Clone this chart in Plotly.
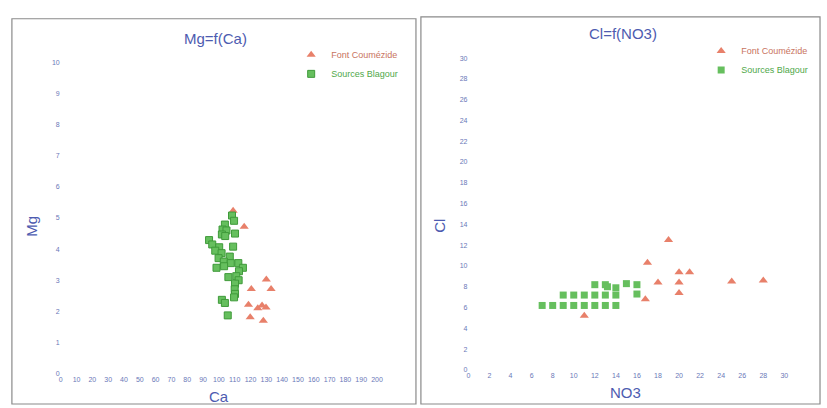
import plotly.graph_objects as go

W, H = 827, 408

# Left panel: Mg = f(Ca)
fc_ca = [109, 116, 130, 133, 120.5, 118.7, 124.6, 127.3, 129.8, 119.8, 128.1]
fc_mg = [5.23, 4.72, 3.02, 2.72, 2.72, 2.21, 2.1, 2.19, 2.12, 1.81, 1.7]
sb_ca = [108.3, 109.6, 103.8, 102.3, 104.8, 101.9, 110.2, 104.0, 93.8, 95.8, 100.2, 109.0,
         97.7, 101.7, 99.8, 106.9, 103.1, 107.5, 112.3, 98.5, 103.3, 115.2, 112.7, 106.0,
         111.0, 112.5, 110.2, 110.0, 110.2, 109.6, 101.9, 103.8, 105.6]
sb_mg = [5.08, 4.91, 4.79, 4.63, 4.60, 4.47, 4.50, 4.42, 4.29, 4.15, 4.06, 4.08,
         3.95, 3.87, 3.71, 3.76, 3.60, 3.55, 3.55, 3.40, 3.45, 3.40, 3.29, 3.10,
         3.13, 3.00, 2.89, 2.71, 2.56, 2.45, 2.37, 2.27, 1.87]

# Right panel: Cl = f(NO3)
fc_no3 = [11, 16.8, 17, 18, 19, 20, 21, 20, 20, 25, 28]
fc_cl = [5.2, 6.8, 10.3, 8.4, 12.5, 9.4, 9.4, 8.4, 7.4, 8.5, 8.6]
sb_no3 = [7, 8, 9, 10, 11, 12, 13, 14,
          9, 10, 11, 12, 13, 14, 16,
          12, 13, 13.2, 14, 15, 16]
sb_cl = [6.2, 6.2, 6.2, 6.2, 6.2, 6.2, 6.2, 6.2,
         7.2, 7.2, 7.2, 7.2, 7.2, 7.2, 7.3,
         8.2, 8.2, 8.0, 7.9, 8.3, 8.2]

names = ["Font Coumézide", "Sources Blagour"]
titles = ["Mg=f(Ca)", "Cl=f(NO3)"]

RED = "#E8806A"
GREEN = "#66BF5E"
GREEN_DARK = "#3F9A3A"
BLUE = "#4D5BB0"
TICK = "#6A78B8"
FONT = "Arial, Liberation Sans"

fig = go.Figure()

def px_x(p):
    return p / W

def px_y(p):
    return 1 - p / H

tri = dict(symbol="triangle-up", size=8, color=RED)
sq = dict(symbol="square", size=7, color=GREEN, line=dict(color=GREEN_DARK, width=1))

fig.add_trace(go.Scatter(x=fc_ca, y=fc_mg, mode="markers", marker=tri,
                         name='<span style="color:#C8735E">' + names[0] + '</span>',
                         xaxis="x", yaxis="y", legend="legend"))
fig.add_trace(go.Scatter(x=sb_ca, y=sb_mg, mode="markers", marker=sq,
                         name='<span style="color:#4FA84A">' + names[1] + '</span>',
                         xaxis="x", yaxis="y", legend="legend"))
fig.add_trace(go.Scatter(x=fc_no3, y=fc_cl, mode="markers", marker=tri,
                         name='<span style="color:#C8735E">' + names[0] + '</span>',
                         xaxis="x2", yaxis="y2", legend="legend2"))
fig.add_trace(go.Scatter(x=sb_no3, y=sb_cl, mode="markers",
                         marker=dict(symbol="square", size=7, color=GREEN),
                         name='<span style="color:#4FA84A">' + names[1] + '</span>',
                         xaxis="x2", yaxis="y2", legend="legend2"))

ax_common = dict(showgrid=False, zeroline=False, showline=False, ticks="",
                 tickfont=dict(size=7, color=TICK, family=FONT))

leg_common = dict(xanchor="left", yanchor="top", bgcolor="rgba(0,0,0,0)",
                  font=dict(size=9, family=FONT), tracegroupgap=0,
                  itemsizing="trace", itemwidth=30)

fig.update_layout(
    width=W, height=H,
    margin=dict(l=0, r=0, t=0, b=0),
    paper_bgcolor="white", plot_bgcolor="white",
    xaxis=dict(domain=[px_x(59.3), px_x(378.7)], range=[0, 200], dtick=10,
               anchor="y", **ax_common),
    yaxis=dict(domain=[px_y(376), px_y(59.5)], range=[0, 10], dtick=1,
               anchor="x", **ax_common),
    xaxis2=dict(domain=[px_x(471), px_x(790)], range=[0, 30], dtick=2,
                anchor="y2", **ax_common),
    yaxis2=dict(domain=[px_y(372.3), px_y(55)], range=[0, 30], dtick=2,
                anchor="x2", **ax_common),
    legend=dict(x=px_x(292), y=px_y(37), **leg_common),
    legend2=dict(x=px_x(706), y=px_y(33), **leg_common),
    showlegend=True,
)

ann_font = dict(family=FONT, color=BLUE)
def ann(xp, yp, text, size=15, angle=0):
    fig.add_annotation(x=px_x(xp), y=px_y(yp), xref="paper", yref="paper", text=text,
                       textangle=angle, showarrow=False, xanchor="center",
                       yanchor="middle", font=dict(size=size, **ann_font))

ann(216, 35, titles[0])
ann(627, 30, titles[1])
ann(29, 226, "Mg", angle=-90)
ann(219, 399, "Ca")
ann(441, 226, "Cl", angle=-90)
ann(630, 395, "NO3")

frame = dict(color="#8A8A8A", width=1.2)
fig.add_shape(type="rect", xref="paper", yref="paper",
              x0=px_x(10), x1=px_x(418), y0=px_y(407), y1=px_y(15), line=frame)
fig.add_shape(type="rect", xref="paper", yref="paper",
              x0=px_x(423), x1=px_x(826), y0=px_y(407), y1=px_y(13), line=frame)

fig.write_html("out.html", config={"displayModeBar": False},
               post_script="document.body.style.margin='0';document.body.style.padding='0';")
